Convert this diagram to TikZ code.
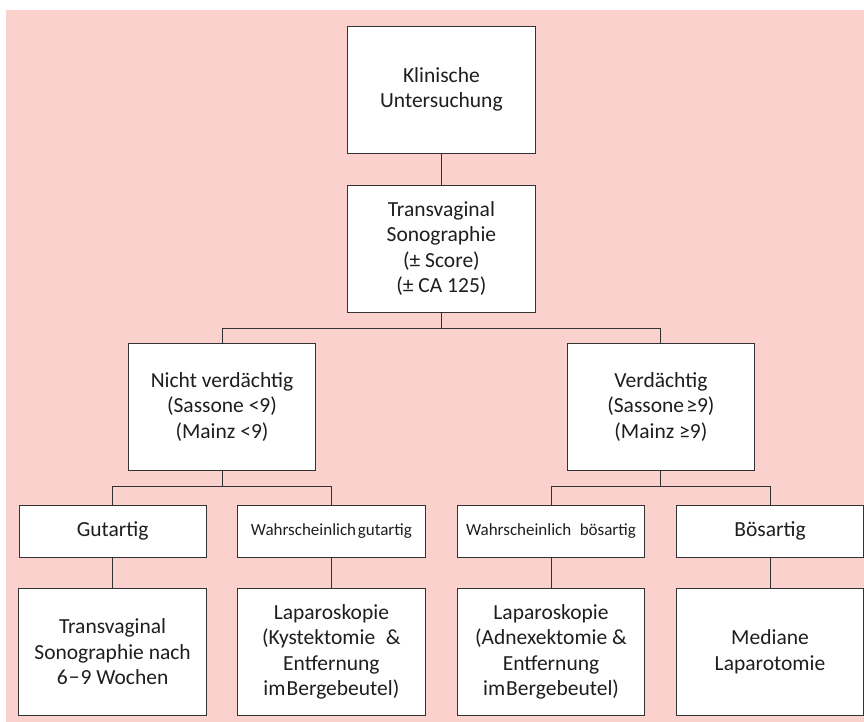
\documentclass[tikz,border=0pt]{standalone}
\usepackage{fontspec}
\setmainfont{Carlito}
\usetikzlibrary{calc}
\definecolor{bgpink}{RGB}{250,209,204}
\definecolor{txt}{RGB}{30,30,30}
\definecolor{ln}{RGB}{50,50,50}
\begin{document}
\begin{tikzpicture}[x=1pt,y=-1pt,
  box/.style={draw=ln,line width=0.9pt,fill=white,inner sep=0pt,align=center,
    text=txt,font=\fontsize{21.5}{25.5}\selectfont},
  bigbox/.style={box,minimum width=187.5pt,minimum height=127pt},
  smallbox/.style={box,minimum width=187.3pt,minimum height=51.3pt},
  smalltext/.style={font=\fontsize{17}{21}\selectfont},
  conn/.style={draw=ln,line width=0.9pt}]
\useasboundingbox (0,0) rectangle (864,722);
\fill[bgpink] (6,10) rectangle (864,722);
\node[bigbox] (a) at (441.4,89.5) {Klinische\\Untersuchung};
\node[bigbox] (b) at (441.4,248.5) {Transvaginal\\Sonographie\\(± Score)\\(± CA 125)};
\node[bigbox] (c) at (222,406.7) {Nicht verdächtig\\(Sassone <9)\\(Mainz <9)};
\node[bigbox] (d) at (660.9,406.7) {Verdächtig\\(Sassone\hspace{0.1em}≥9)\\(Mainz ≥9)};
\node[smallbox] (e) at (112.6,531.3) {Gutartig};
\node[smallbox,smalltext] (f) at (331.4,531.3) {Wahrscheinlich\hspace{0.1em}gutartig};
\node[smallbox,smalltext] (g) at (551,531.3) {Wahrscheinlich\hspace{0.5em}bösartig};
\node[smallbox] (h) at (770,531.3) {Bösartig};
\node[bigbox] (e2) at (112.6,651.8) {Transvaginal\\Sonographie nach\\6\hspace{0.05em}−\hspace{0.05em}9 Wochen};
\node[bigbox] (f2) at (331.4,651.8) {Laparoskopie\\(Kystektomie\hspace{0.5em}\&\\Entfernung\\im\hspace{0.05em}Bergebeutel)};
\node[bigbox] (g2) at (551,651.8) {Laparoskopie\\(Adnexektomie \&\\Entfernung\\im\hspace{0.05em}Bergebeutel)};
\node[bigbox] (h2) at (770,651.8) {Mediane\\Laparotomie};
\draw[conn] (a.south) -- (b.south |- b.north);
\coordinate (j1) at ($(b.south)+(0,15.7)$);
\draw[conn] (b.south) -- (j1) -| (c.north);
\draw[conn] (j1) -| (d.north);
\coordinate (j2) at ($(c.south)+(0,15.7)$);
\draw[conn] (c.south) -- (j2) -| (e.north);
\draw[conn] (j2) -| (f.north);
\coordinate (j3) at ($(d.south)+(0,15.7)$);
\draw[conn] (d.south) -- (j3) -| (g.north);
\draw[conn] (j3) -| (h.north);
\draw[conn] (e.south) -- (e2.north);
\draw[conn] (f.south) -- (f2.north);
\draw[conn] (g.south) -- (g2.north);
\draw[conn] (h.south) -- (h2.north);
\end{tikzpicture}
\end{document}
